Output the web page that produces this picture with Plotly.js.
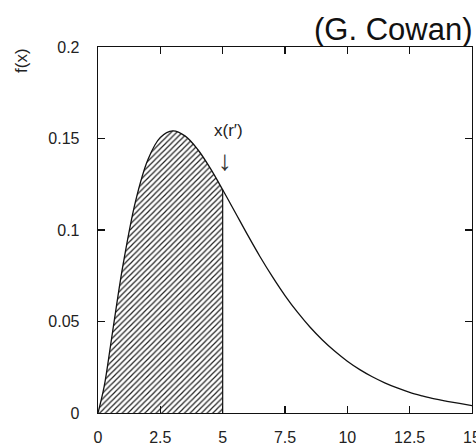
<!DOCTYPE html>
<html>
<head>
<meta charset="utf-8">
<script src="https://cdn.plot.ly/plotly-3.0.1.min.js"></script>
<style>html,body{margin:0;padding:0;background:#fff;}</style>
</head>
<body>
<div id="chart" style="width:476px;height:444px;"></div>
<script>
// values
var xVals = [0, 0.25, 0.5, 0.75, 1, 1.5, 2, 2.5, 3, 3.5, 4, 4.5, 5, 5.5, 6, 6.5, 7, 7.5, 8, 8.5, 9, 9.5, 10, 10.5, 11, 11.5, 12, 12.5, 13, 13.5, 14, 14.5, 15];
var fVals = [0, 0.0147, 0.0366, 0.0594, 0.0807, 0.1154, 0.1384, 0.1506, 0.1542, 0.1513, 0.1440, 0.1338, 0.1220, 0.1097, 0.0973, 0.0854, 0.0744, 0.0642, 0.0551, 0.0470, 0.0399, 0.0337, 0.0283, 0.0237, 0.0198, 0.0165, 0.0137, 0.0113, 0.0094, 0.0077, 0.0064, 0.0052, 0.0040];
var cutX = 5;
var xTicks = [0, 2.5, 5, 7.5, 10, 12.5, 15];
var xTickText = ["0", "2.5", "5", "7.5", "10", "12.5", "15"];
var yTicks = [0, 0.05, 0.1, 0.15, 0.2];
var yTickText = ["0", "0.05", "0.1", "0.15", "0.2"];

var shadeX = [], shadeY = [];
for (var i = 0; i < xVals.length; i++) {
  if (xVals[i] <= cutX) { shadeX.push(xVals[i]); shadeY.push(fVals[i]); }
}
var cutY = fVals[xVals.indexOf(cutX)];

var traces = [
  {x: shadeX, y: shadeY, type: 'scatter', mode: 'lines', fill: 'tozeroy',
   line: {color: 'rgba(0,0,0,0)', width: 0, shape: 'spline'},
   fillcolor: 'rgba(255,255,255,0)',
   fillpattern: {shape: '/', size: 4, solidity: 0.3, fgcolor: '#222', bgcolor: 'rgba(255,255,255,0)'},
   hoverinfo: 'skip', showlegend: false},
  {x: [cutX, cutX], y: [0, cutY], type: 'scatter', mode: 'lines',
   line: {color: '#111', width: 1.2}, showlegend: false},
  {x: xVals, y: fVals, type: 'scatter', mode: 'lines',
   line: {color: '#111', width: 1.3, shape: 'spline'}, showlegend: false}
];

var tickFont = {family: 'Liberation Sans, Arial, sans-serif', size: 16, color: '#222'};
var axisCommon = {
  showline: true, linecolor: '#111', linewidth: 1.3, mirror: 'ticks',
  ticks: 'inside', ticklen: 7, tickcolor: '#111', tickwidth: 1.2,
  showgrid: false, zeroline: false, ticklabeloverflow: 'allow',
  tickfont: tickFont
};

var layout = {
  width: 476, height: 444,
  margin: {l: 98, r: 4, t: 47, b: 31},
  paper_bgcolor: '#fff', plot_bgcolor: '#fff',
  xaxis: Object.assign({}, axisCommon, {range: [0, 15], tickmode: 'array', tickvals: xTicks, ticktext: xTickText, ticklabelstandoff: 9}),
  yaxis: Object.assign({}, axisCommon, {range: [0, 0.2], tickmode: 'array', tickvals: yTicks, ticktext: yTickText, ticklabelstandoff: 14}),
  annotations: [
    {text: '(G. Cowan)', xref: 'paper', yref: 'paper', x: 1.0, y: 1.0, xanchor: 'right', yanchor: 'middle', yshift: 18, xshift: 2,
     showarrow: false, font: {family: 'Liberation Sans, Arial, sans-serif', size: 31, color: '#111'}},
    {text: 'f(x)', xref: 'paper', yref: 'paper', x: 0, y: 1.0, xshift: -77, yshift: -14, textangle: -90,
     xanchor: 'center', yanchor: 'middle', showarrow: false,
     font: {family: 'Liberation Sans, Arial, sans-serif', size: 17, color: '#222'}},
    {text: 'x(r′)', xref: 'x', yref: 'y', x: 5.23, y: 0.1545, xanchor: 'center', yanchor: 'middle', showarrow: false,
     font: {family: 'Liberation Sans, Arial, sans-serif', size: 17, color: '#222'}},
    {text: '↓', xref: 'x', yref: 'y', x: 5.1, y: 0.138, xanchor: 'center', yanchor: 'middle', showarrow: false,
     font: {family: 'Liberation Sans, Arial, sans-serif', size: 28, color: '#333'}}
  ]
};

Plotly.newPlot('chart', traces, layout, {staticPlot: true, displayModeBar: false});
</script>
</body>
</html>
